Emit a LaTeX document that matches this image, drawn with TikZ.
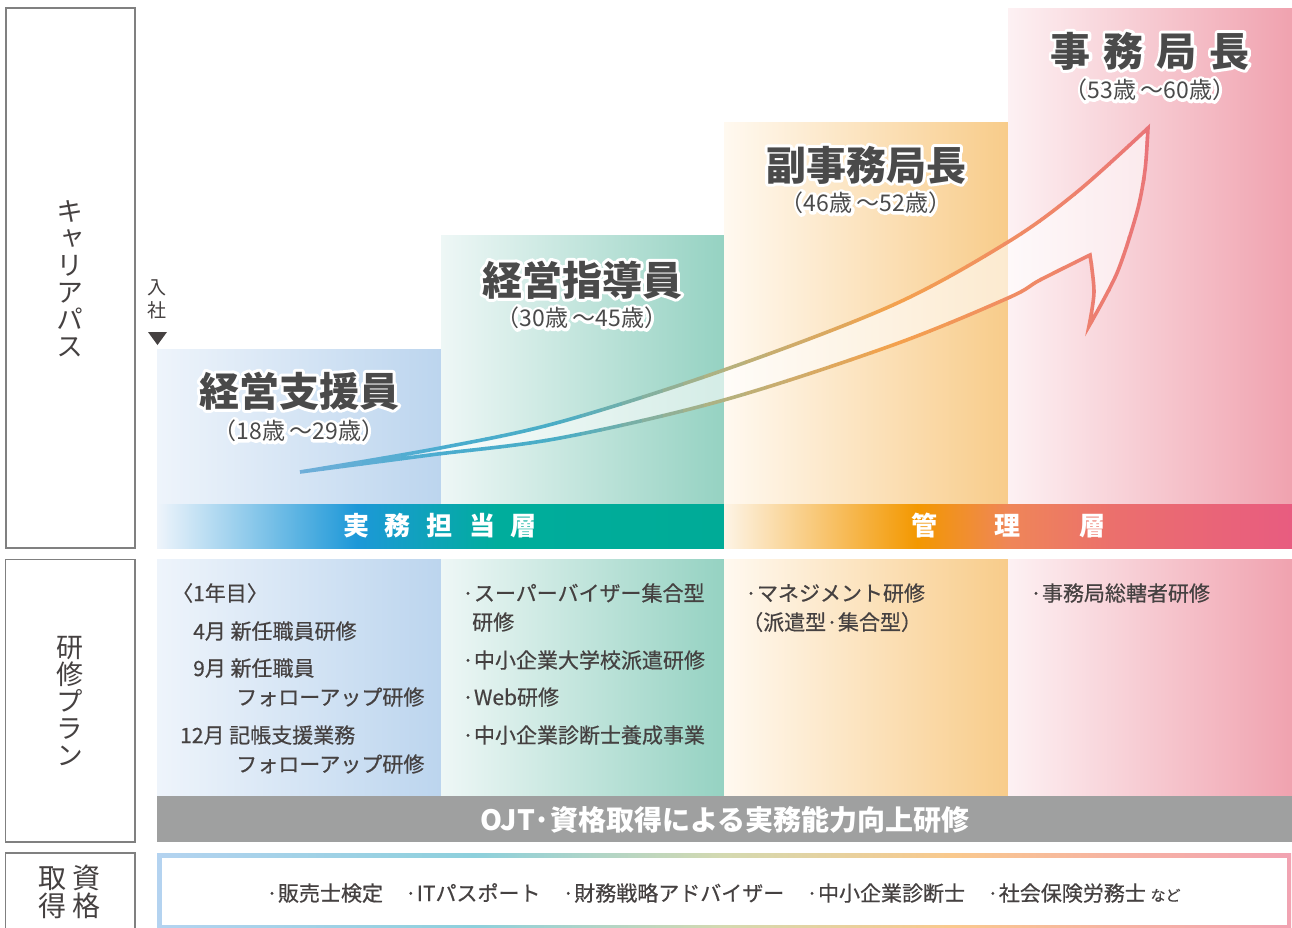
\documentclass[tikz,border=0pt]{standalone}
\usepackage{fontspec}
\setmainfont{Noto Sans CJK JP}
\newfontfamily\vjp{Noto Sans CJK JP}[RawFeature=+vert]
\newfontfamily\bodyjp{Noto Sans CJK JP}[FakeBold=0.5]
\definecolor{txtgray}{HTML}{454141}
\definecolor{ttlgray}{HTML}{4A4A4A}
\definecolor{boxgray}{HTML}{808080}
\definecolor{ojtgray}{HTML}{9FA0A0}
\definecolor{c1l}{HTML}{EEF4FB}\definecolor{c1r}{HTML}{BCD5EE}
\definecolor{c2l}{HTML}{EEF7F6}\definecolor{c2r}{HTML}{95D2C2}
\definecolor{c3l}{HTML}{FFF9F0}\definecolor{c3r}{HTML}{F8CC8A}
\definecolor{c4l}{HTML}{FDF1F3}\definecolor{c4r}{HTML}{F0A2AF}
\definecolor{bA0}{HTML}{EEF4FB}\definecolor{bA1}{HTML}{1D98D8}
\definecolor{bA2}{HTML}{00AD9C}\definecolor{bA3}{HTML}{00AB97}
\definecolor{bB0}{HTML}{FDF4E6}\definecolor{bB1}{HTML}{F39800}
\definecolor{bB2}{HTML}{EF8658}\definecolor{bB3}{HTML}{EB6E6E}
\definecolor{bB4}{HTML}{E85C80}
\definecolor{d0}{HTML}{B4D3F0}\definecolor{d1}{HTML}{8DD0DC}
\definecolor{d2}{HTML}{D4D9B0}\definecolor{d3}{HTML}{F9C98D}
\definecolor{d4}{HTML}{F6B2A3}\definecolor{d5}{HTML}{F2A3B2}
\definecolor{ar0}{HTML}{74AFDA}\definecolor{ar1}{HTML}{4AACCF}
\definecolor{ar2}{HTML}{4AADC5}\definecolor{ar3}{HTML}{B4B27F}
\definecolor{ar4}{HTML}{F4A24C}\definecolor{ar5}{HTML}{EF8768}
\definecolor{ar6}{HTML}{E8707D}
\pgfdeclarehorizontalshading{bandA}{100bp}{color(0bp)=(bA0); color(25bp)=(bA0); color(42.6bp)=(bA1); color(55bp)=(bA2); color(75bp)=(bA3); color(100bp)=(bA3)}
\pgfdeclarehorizontalshading{bandB}{100bp}{color(0bp)=(bB0); color(25bp)=(bB0); color(42bp)=(bB1); color(50bp)=(bB2); color(60bp)=(bB3); color(75bp)=(bB4); color(100bp)=(bB4)}
\pgfdeclarehorizontalshading{certborder}{100bp}{color(0bp)=(d0); color(25bp)=(d0); color(39bp)=(d1); color(50bp)=(d2); color(60bp)=(d3); color(67.5bp)=(d4); color(75bp)=(d5); color(100bp)=(d5)}
\def\arrowpath{plot[smooth,tension=0.55] coordinates {(300,472) (440,448) (560,422) (724,370) (893,305) (1008,242) (1077,192) (1148,128)} -- plot[smooth,tension=0.5] coordinates {(1148,128) (1145,170) (1137,212) (1117,273) (1089,326)} -- plot[smooth] coordinates {(1089,326) (1094,292) (1090,255)} -- plot[smooth,tension=0.55] coordinates {(1090,255) (1040,280) (1008,298) (893,345) (724,400) (560,438) (430,455) (300,472)} -- cycle}
\newcommand\arrowseg[4]{\foreach \k in {0,...,7}{\pgfmathsetmacro\xa{#1+(#2-#1)*\k/8}\pgfmathsetmacro\xb{#1+(#2-#1)*(\k+1)/8+0.6}\pgfmathsetmacro\pc{(\k+0.5)*12.5}\begin{scope}\clip (\xa,0) rectangle (\xb,927);\draw[arrowline,draw=#4!\pc!#3] \arrowpath;\end{scope}}}
\newcommand\haloon{\special{pdf:literal direct 1 1 1 RG 1 Tr 6 w 1 j 1 J}}
\newcommand\halooff{\special{pdf:literal direct 0 Tr}}
\newcommand\halonode[4]{\node[#1] at (#3) {\haloon #4\halooff};\node[#1] (#2) at (#3) {#4};}
\tikzset{
  lbox/.style={draw=boxgray, line width=1.2pt},
  arrowline/.style={line width=3.6pt, line join=miter},
  ttl/.style={font=\bfseries\fontsize{40}{40}\selectfont, text=ttlgray, inner sep=0pt, text height=35pt, text depth=5pt},
  sub/.style={font=\fontsize{23}{23}\selectfont, text=ttlgray, inner sep=0pt, text height=20.2pt, text depth=2.8pt},
  bandtxt/.style={font=\bfseries\fontsize{26}{26}\selectfont, text=white, inner sep=0pt, text height=22.9pt, text depth=3.1pt},
  ojttxt/.style={font=\bfseries\fontsize{28}{28}\selectfont, text=white, inner sep=0pt, text height=24.6pt, text depth=3.4pt},
  body/.style={font=\bodyjp\fontsize{21}{21}\selectfont, text=txtgray, inner sep=0pt, anchor=west, text height=18.5pt, text depth=2.5pt},
  lbl/.style={font=\vjp\fontsize{27}{27}\selectfont, text=txtgray, inner sep=0pt, align=center},
  lbltwo/.style={font=\fontsize{28}{28}\selectfont, text=txtgray, inner sep=0pt, text height=24.6pt, text depth=3.4pt},
}
\begin{document}
\begin{tikzpicture}[x=1pt,y=-1pt]
\useasboundingbox (0,0) rectangle (1292,927);
\fill[white] (0,0) rectangle (1292,927);
% left label boxes
\draw[lbox] (6,8) rectangle (135,548);
\draw[lbox] (5.5,559.5) rectangle (135,842);
\draw[lbox] (5.5,853) rectangle (135,945);
% upper columns
\shade[left color=c1l, right color=c1r] (157,349) rectangle (441,504);
\shade[left color=c2l, right color=c2r] (441,235) rectangle (724,504);
\shade[left color=c3l, right color=c3r] (724,122) rectangle (1008,504);
\shade[left color=c4l, right color=c4r] (1008,8) rectangle (1292,504);
% bands
\shade[shading=bandA] (157,504) rectangle (724,548);
\shade[shading=bandB] (724,504) rectangle (1292,548);
% lower columns
\shade[left color=c1l, right color=c1r] (157,559) rectangle (441,796);
\shade[left color=c2l, right color=c2r] (441,559) rectangle (724,796);
\shade[left color=c3l, right color=c3r] (724,559) rectangle (1008,796);
\shade[left color=c4l, right color=c4r] (1008,559) rectangle (1292,796);
\fill[ojtgray] (157,796) rectangle (1292,842);
% certification box
\shade[shading=certborder] (157,853) rectangle (1291,929);
\fill[white] (162,857.5) rectangle (1286.5,924.5);
% arrow
\fill[white, fill opacity=0.6] \arrowpath;
\arrowseg{284}{440}{ar0}{ar1}
\arrowseg{440}{560}{ar1}{ar2}
\arrowseg{560}{724}{ar2}{ar3}
\arrowseg{724}{893}{ar3}{ar4}
\arrowseg{893}{1040}{ar4}{ar5}
\arrowseg{1040}{1180}{ar5}{ar6}
% titles
\halonode{ttl}{t1}{299,391}{経営支援員}
\halonode{sub}{s1}{299,431}{（18歳\hspace{4pt}～29歳）}
\halonode{ttl}{t2}{582,280}{経営指導員}
\halonode{sub}{s2}{582,318}{（30歳\hspace{4pt}～45歳）}
\halonode{ttl}{t3}{866,165}{副事務局長}
\halonode{sub}{s3}{866,203}{（46歳\hspace{4pt}～52歳）}
\halonode{ttl}{t4}{1150,51}{事\hspace{13pt}務\hspace{13pt}局\hspace{13pt}長}
\halonode{sub}{s4}{1150,90}{（53歳\hspace{4pt}～60歳）}
% band labels
\node[bandtxt] (bA) at (440,526) {実\hspace{16pt}務\hspace{16pt}担\hspace{16pt}当\hspace{16pt}層};
\node[bandtxt] (bB) at (1008,526) {管\hspace{58pt}理\hspace{58pt}層};
% left labels
\node[lbl] (lcareer) at (70,279) {キ\\ャ\\リ\\ア\\パ\\ス};
\node[lbl] (lplan) at (70,701) {研\\修\\プ\\ラ\\ン};
\node[lbltwo] (q1) at (52,878) {取};
\node[lbltwo] (q2) at (86,878) {資};
\node[lbltwo] (q3) at (52,906) {得};
\node[lbltwo] (q4) at (86,906) {格};
\node[font=\vjp\fontsize{19}{23}\selectfont, text=txtgray, inner sep=0pt, align=center] (nyusha) at (157,299) {入\\社};
\fill[txtgray] (148,332) -- (167,332) -- (157.5,345) -- cycle;
% training text
\node[body] (p1) at (172,593) {〈1年目〉};
\node[body] (p2) at (193,631) {4月 新任職員研修};
\node[body] (p3) at (193,668) {9月 新任職員};
\node[body] (p4) at (236,697) {フォローアップ研修};
\node[body] (p5) at (180,735) {12月 記帳支援業務};
\node[body] (p6) at (236,764) {フォローアップ研修};
\node[body] (q21) at (462,593) {·スーパーバイザー集合型};
\node[body] (q22) at (472,622) {研修};
\node[body] (q23) at (462,660) {·中小企業大学校派遣研修};
\node[body] (q24) at (462,697) {·Web研修};
\node[body] (q25) at (462,735) {·中小企業診断士養成事業};
\node[body] (q31) at (745,593) {·マネジメント研修};
\node[body] (q32) at (742,622) {（派遣型·集合型）};
\node[body] (q41) at (1030,593) {·事務局総轄者研修};
\node[ojttxt] (ojt) at (725,820) {OJT·資格取得による実務能力向上研修};
\node[body] (cert) at (266,893) {·販売士検定\hspace{22pt}·ITパスポート\hspace{22pt}·財務戦略アドバイザー\hspace{22pt}·中小企業診断士\hspace{22pt}·社会保険労務士 {\fontsize{15}{15}\selectfont など}};
\end{tikzpicture}
\end{document}
